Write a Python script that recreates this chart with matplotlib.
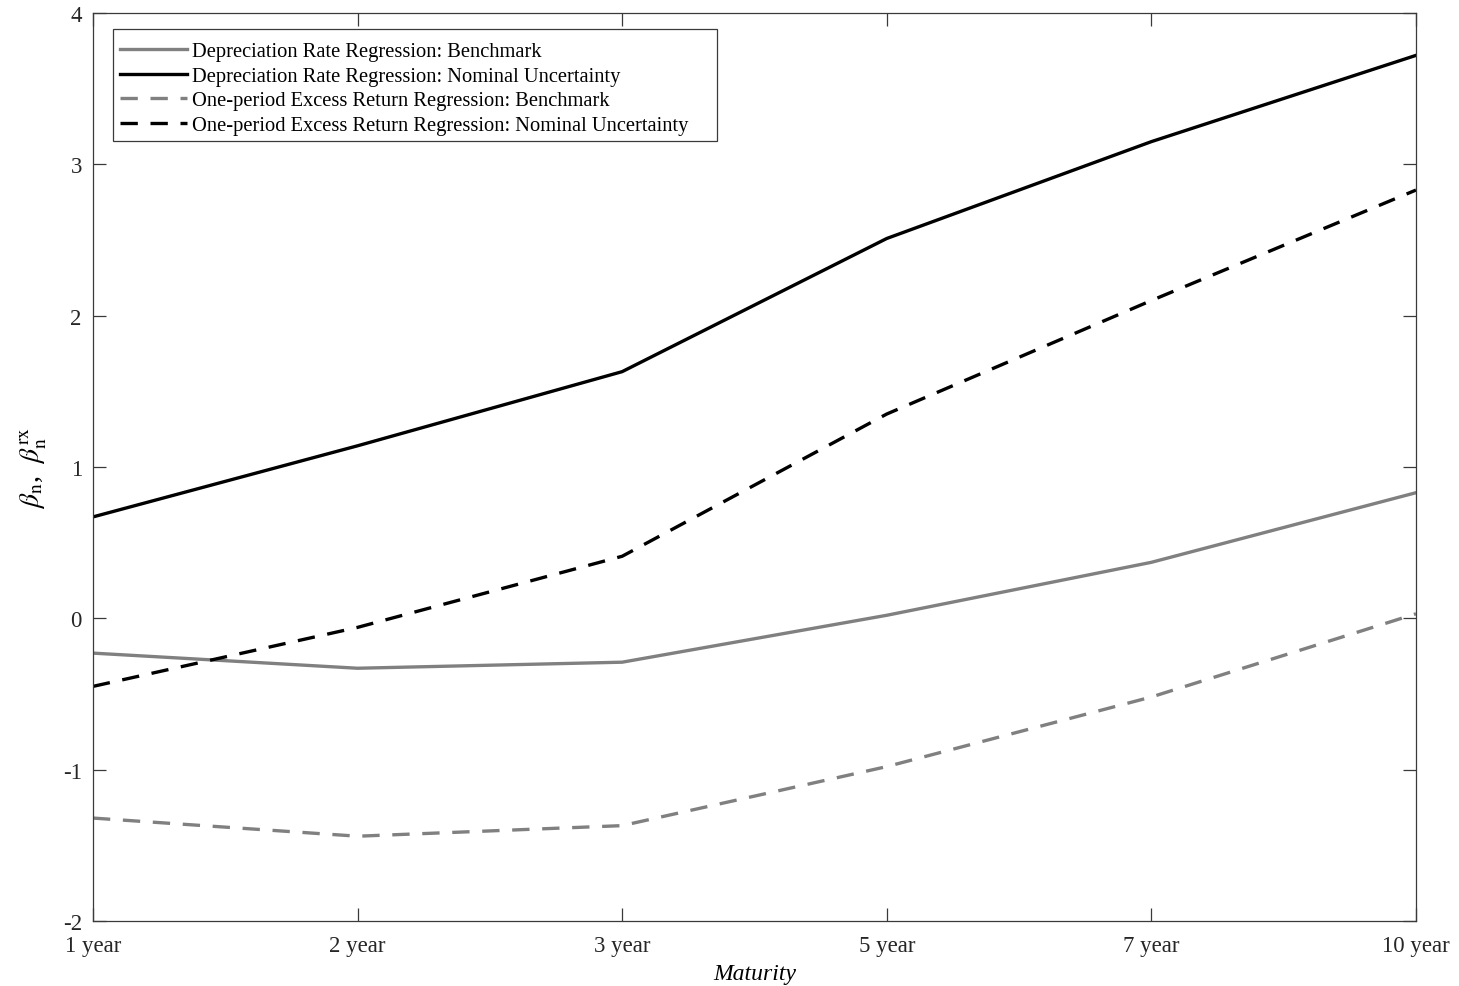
import matplotlib
matplotlib.use("Agg")
import matplotlib.pyplot as plt
from matplotlib.patches import Rectangle

plt.rcParams['font.family'] = ['Liberation Serif', 'DejaVu Serif']
plt.rcParams['mathtext.fontset'] = 'stix'

maturities = ["1 year", "2 year", "3 year", "5 year", "7 year", "10 year"]
depr_benchmark = [-0.23, -0.33, -0.29, 0.02, 0.37, 0.83]
depr_nominal = [0.67, 1.14, 1.63, 2.51, 3.15, 3.72]
rx_benchmark = [-1.32, -1.44, -1.37, -0.98, -0.52, 0.03]
rx_nominal = [-0.45, -0.06, 0.41, 1.35, 2.10, 2.83]

x = list(range(1, len(maturities) + 1))

W, H = 1459, 987
fig = plt.figure(figsize=(W / 100, H / 100), dpi=100)
ax = fig.add_axes([0.0637, 0.0659, 0.9068, 0.9199])

gray = '#808080'
lw = 2.4
dash = (0, (5.2, 3.8))
ax.plot(x, depr_benchmark, color=gray, lw=lw, label='Depreciation Rate Regression: Benchmark')
ax.plot(x, depr_nominal, color='black', lw=lw, label='Depreciation Rate Regression: Nominal Uncertainty')
ax.plot(x, rx_benchmark, color=gray, lw=lw, ls=dash, label='One-period Excess Return Regression: Benchmark')
ax.plot(x, rx_nominal, color='black', lw=lw, ls=dash, label='One-period Excess Return Regression: Nominal Uncertainty')

ax.set_xlim(1, 6)
ax.set_ylim(-2, 4)
ax.set_xticks(x)
ax.set_xticklabels(maturities)
ax.set_yticks([-2, -1, 0, 1, 2, 3, 4])
ax.set_yticklabels(['-2', '-1', '0', '1', '2', '3', '4'])

axcol = '#3a3a3a'
for s in ax.spines.values():
    s.set_color(axcol)
    s.set_linewidth(0.9)
ax.tick_params(direction='in', length=9.5, width=0.9, colors=axcol, labelsize=16.5,
               top=True, right=True, labelcolor='#262626')
ax.tick_params(axis='x', pad=10)
ax.tick_params(axis='y', pad=8)

ax.set_xlabel('Maturity', fontsize=17, style='italic', labelpad=5)
ax.set_ylabel(r'$\beta_{\rm n}$,  $\beta_{\rm n}^{\rm rx}$', fontsize=20, labelpad=10)

# legend without its own frame; frame drawn as a rectangle (MATLAB-like extra right padding)
leg = ax.legend(loc='upper left', bbox_to_anchor=(120 / W, 1 - 43 / H),
                bbox_transform=fig.transFigure, fontsize=14.8,
                frameon=False, handlelength=3.25,
                handletextpad=0.25, borderpad=0.0, labelspacing=0.25, borderaxespad=0)
for t in leg.get_texts():
    t.set_color('black')
leg.set_zorder(6)
frame = Rectangle((113 / W, 1 - 142 / H), 604 / W, 112 / H,
                  transform=fig.transFigure, fill=True, facecolor='white',
                  edgecolor=axcol, linewidth=0.9, zorder=5, clip_on=False)
ax.add_artist(frame)

fig.savefig('out.png', dpi=100)
